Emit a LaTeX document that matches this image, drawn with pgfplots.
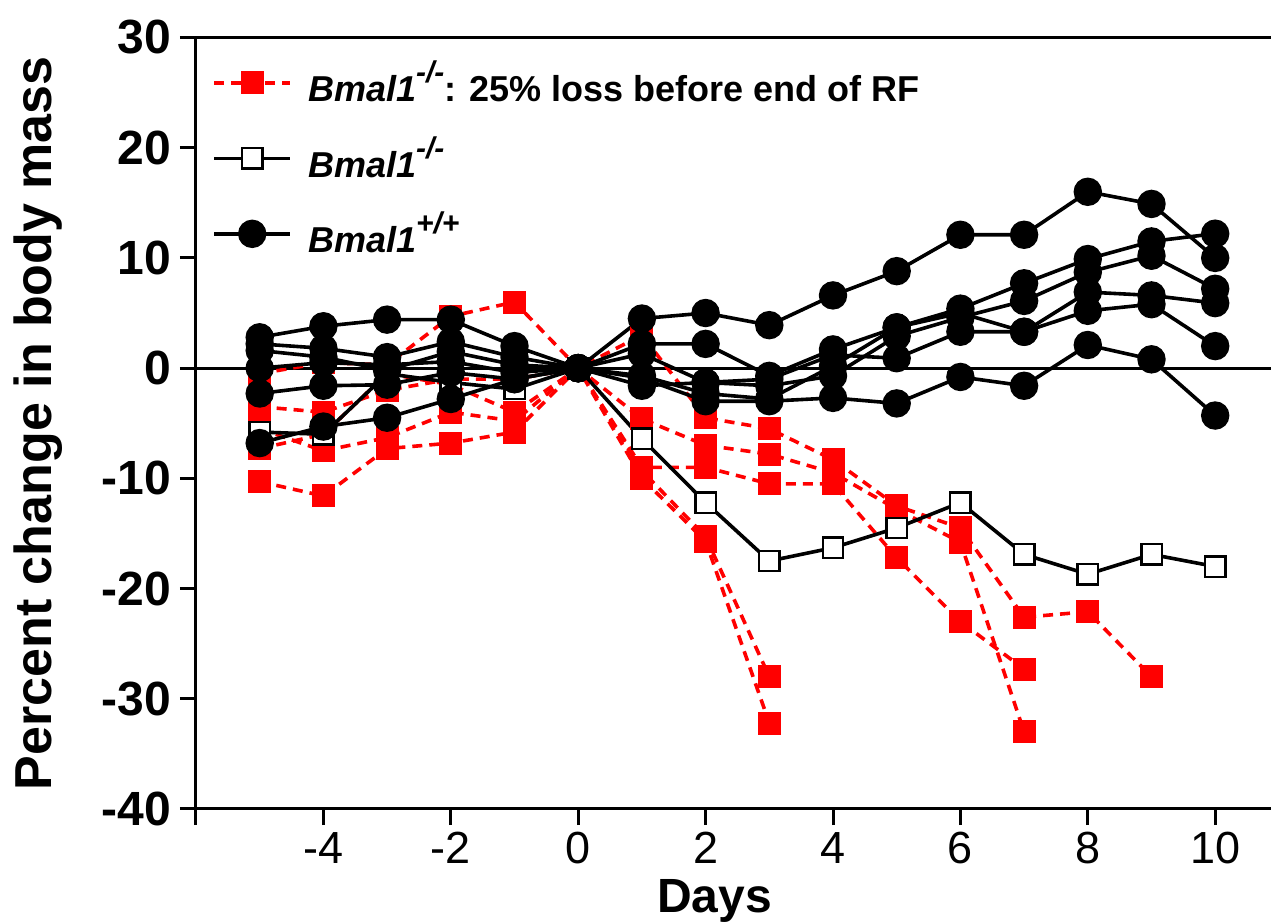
\documentclass[border=0pt]{standalone}
\usepackage{pgfplots}
\pgfplotsset{compat=1.18}
\usepackage{fontspec}
\setmainfont{Liberation Sans}
\definecolor{rfred}{RGB}{255,0,0}
\newcommand{\gsup}[1]{\raisebox{0.52em}{\fontsize{15}{15}\selectfont\textit{#1}}}
\pgfplotsset{
  redline/.style={color=rfred, line width=1.8pt, dash pattern=on 5pt off 3.5pt,
    mark=square*, mark size=5.5pt, mark options={solid, fill=rfred, draw=rfred, line width=0pt}},
  whiteline/.style={color=black, line width=1.8pt, solid,
    mark=square*, mark size=5.1pt, mark options={solid, fill=white, draw=black, line width=1.2pt}},
  blackline/.style={color=black, line width=1.8pt, solid,
    mark=*, mark size=6.2pt, mark options={solid, fill=black, draw=black}},
}
\begin{document}
\begin{tikzpicture}
\begin{axis}[
  at={(98pt,56.5pt)}, anchor=south west,
  scale only axis, width=541.45pt, height=385.75pt,
  xmin=-6, xmax=11, ymin=-40, ymax=30,
  xtick={-6,-4,...,10}, xticklabels={,-4,-2,0,2,4,6,8,10},
  ytick={-40,-30,...,30},
  tick align=outside, xtick pos=bottom, ytick pos=left,
  major tick length=8pt,
  tick style={line width=1.5pt, black},
  axis line style={line width=1.5pt},
  /pgf/number format/assume math mode=true,
  yticklabel style={font=\bfseries\fontsize{24}{28}\selectfont, xshift=-1pt},
  xticklabel style={font=\fontsize{22.5}{26}\selectfont},
  ylabel={Percent change in body mass},
  ylabel style={font=\bfseries\fontsize{26}{30}\selectfont, at={(axis description cs:-0.1339,0.5)}, anchor=base},
  xlabel={Days},
  xlabel style={font=\bfseries\fontsize{24}{28}\selectfont, at={(axis description cs:0.479,-0.1348)}, anchor=base},
  legend cell align=left,
  legend style={at={(axis description cs:0.0148,0.975)}, anchor=north west, draw=none, fill=none,
    font=\bfseries\fontsize{18}{21}\selectfont, row sep=12pt, column sep=6pt, inner sep=0pt},
  legend image code/.code={\draw[mark repeat=2,mark phase=2] plot coordinates {(0pt,0pt) (19pt,0pt) (38pt,0pt)};},
]
\draw[line width=1.5pt] (axis cs:-6,0) -- (axis cs:11,0);
% Bmal1-/- with 25% loss before end of RF
\addplot[redline] coordinates {(-5,-10.3) (-4,-11.6) (-3,-7.3) (-2,-6.8) (-1,-5.8) (0,0) (1,-10.0) (2,-15.7) (3,-32.2)};
\addlegendentry{\textit{Bmal1}\gsup{-/-}: 25\% loss before end of RF}
\addplot[redline, forget plot] coordinates {(-5,-7.3) (-4,-6.0) (-3,-0.5) (-2,-1.5) (-1,-4.0) (0,0) (1,-9.3) (2,-15.3) (3,-28.0)};
\addplot[redline, forget plot] coordinates {(-5,-0.5) (-4,0.5) (-3,0.3) (-2,4.7) (-1,6.0) (0,0) (1,3.0) (2,-4.5) (3,-5.5) (4,-8.3) (5,-12.5) (6,-14.5) (7,-22.6) (8,-22.1) (9,-28.0)};
\addplot[redline, forget plot] coordinates {(-5,-3.5) (-4,-4.0) (-3,-2.0) (-2,-1.0) (-1,-1.0) (0,0) (1,-4.6) (2,-7.0) (3,-7.8) (4,-9.5) (5,-12.8) (6,-15.8) (7,-33.0)};
\addplot[redline, forget plot] coordinates {(-5,-5.5) (-4,-7.5) (-3,-6.3) (-2,-4.0) (-1,-4.8) (0,0) (1,-9.0) (2,-9.0) (3,-10.5) (4,-10.5) (5,-17.2) (6,-23.0) (7,-27.3)};
% Bmal1-/- (group)
\addplot[whiteline] coordinates {(-5,-5.8) (-4,-6.0) (-3,-0.5) (-2,-1.3) (-1,-1.9) (0,0) (1,-6.4) (2,-12.2) (3,-17.5) (4,-16.3) (5,-14.5) (6,-12.2) (7,-16.9) (8,-18.7) (9,-16.9) (10,-18.0)};
\addlegendentry{\textit{Bmal1}\gsup{-/-}}
% Bmal1+/+
\addplot[blackline] coordinates {(-5,2.8) (-4,3.8) (-3,4.4) (-2,4.4) (-1,2.0) (0,0) (1,4.5) (2,5.0) (3,3.9) (4,6.6) (5,8.8) (6,12.1) (7,12.1) (8,16.0) (9,14.9) (10,10.0)};
\addlegendentry{\textit{Bmal1}\gsup{+/+}}
\addplot[blackline, forget plot] coordinates {(-5,2.2) (-4,1.8) (-3,1.0) (-2,2.4) (-1,1.0) (0,0) (1,2.2) (2,2.2) (3,-0.7) (4,1.7) (5,3.7) (6,5.4) (7,7.7) (8,9.9) (9,11.5) (10,12.2)};
\addplot[blackline, forget plot] coordinates {(-5,1.6) (-4,1.0) (-3,-0.2) (-2,1.5) (-1,0.3) (0,0) (1,1.3) (2,-1.3) (3,-1.6) (4,-0.7) (5,2.9) (6,4.6) (7,6.1) (8,8.7) (9,10.2) (10,7.2)};
\addplot[blackline, forget plot] coordinates {(-5,0.0) (-4,0.5) (-3,0.3) (-2,0.6) (-1,-0.4) (0,0) (1,-0.7) (2,-2.3) (3,-2.8) (4,0.2) (5,3.7) (6,5.0) (7,3.3) (8,6.9) (9,6.6) (10,5.9)};
\addplot[blackline, forget plot] coordinates {(-5,-2.3) (-4,-1.6) (-3,-1.5) (-2,-0.4) (-1,-1.0) (0,0) (1,-1.6) (2,-1.3) (3,-1.0) (4,1.2) (5,0.9) (6,3.3) (7,3.3) (8,5.2) (9,5.8) (10,2.0)};
\addplot[blackline, forget plot] coordinates {(-5,-6.8) (-4,-5.3) (-3,-4.5) (-2,-2.8) (-1,-1.0) (0,0) (1,-0.9) (2,-3.0) (3,-3.0) (4,-2.7) (5,-3.2) (6,-0.8) (7,-1.6) (8,2.1) (9,0.8) (10,-4.3)};
\end{axis}
\pgfresetboundingbox
\useasboundingbox (0,0) rectangle (635.5pt,461pt);
\end{tikzpicture}
\end{document}
